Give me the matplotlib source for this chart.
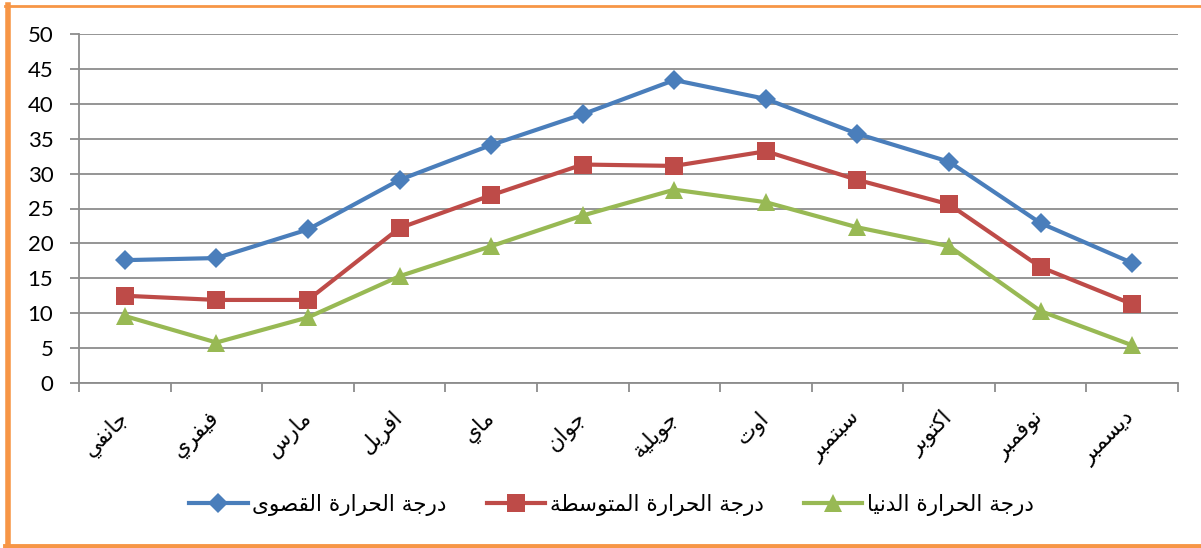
import matplotlib
matplotlib.use("Agg")
import matplotlib.pyplot as plt
from matplotlib.lines import Line2D
import numpy as np

# ---------------- data ----------------
months = ["جانفي", "فيفري", "مارس", "افريل", "ماي", "جوان",
          "جويلية", "اوت", "سبتمبر", "اكتوبر", "نوفمبر", "ديسمبر"]
series_names = ["درجة الحرارة القصوى", "درجة الحرارة المتوسطة", "درجة الحرارة الدنيا"]
t_max = [17.6, 17.9, 22.0, 29.1, 34.1, 38.5, 43.4, 40.7, 35.7, 31.7, 22.9, 17.2]
t_mean = [12.5, 11.9, 11.9, 22.2, 26.9, 31.3, 31.1, 33.2, 29.1, 25.6, 16.6, 11.3]
t_min = [9.6, 5.8, 9.4, 15.3, 19.6, 24.0, 27.7, 25.9, 22.3, 19.6, 10.3, 5.4]
y_ticks = [0, 5, 10, 15, 20, 25, 30, 35, 40, 45, 50]

# ------------- minimal Arabic shaping (presentation forms) -------------
FORMS = {
    'ا': ('\uFE8D', '\uFE8E', None, None),
    'ب': ('\uFE8F', '\uFE90', '\uFE91', '\uFE92'),
    'ة': ('\uFE93', '\uFE94', None, None),
    'ت': ('\uFE95', '\uFE96', '\uFE97', '\uFE98'),
    'ج': ('\uFE9D', '\uFE9E', '\uFE9F', '\uFEA0'),
    'ح': ('\uFEA1', '\uFEA2', '\uFEA3', '\uFEA4'),
    'د': ('\uFEA9', '\uFEAA', None, None),
    'ر': ('\uFEAD', '\uFEAE', None, None),
    'س': ('\uFEB1', '\uFEB2', '\uFEB3', '\uFEB4'),
    'ص': ('\uFEB9', '\uFEBA', '\uFEBB', '\uFEBC'),
    'ط': ('\uFEC1', '\uFEC2', '\uFEC3', '\uFEC4'),
    'ف': ('\uFED1', '\uFED2', '\uFED3', '\uFED4'),
    'ق': ('\uFED5', '\uFED6', '\uFED7', '\uFED8'),
    'ك': ('\uFED9', '\uFEDA', '\uFEDB', '\uFEDC'),
    'ل': ('\uFEDD', '\uFEDE', '\uFEDF', '\uFEE0'),
    'م': ('\uFEE1', '\uFEE2', '\uFEE3', '\uFEE4'),
    'ن': ('\uFEE5', '\uFEE6', '\uFEE7', '\uFEE8'),
    'و': ('\uFEED', '\uFEEE', None, None),
    'ى': ('\uFEEF', '\uFEF0', None, None),
    'ي': ('\uFEF1', '\uFEF2', '\uFEF3', '\uFEF4'),
}


def dual(c):
    return c in FORMS and FORMS[c][2] is not None


def shape(text):
    out = []
    n = len(text)
    for i, c in enumerate(text):
        if c not in FORMS:
            out.append(c)
            continue
        prev_c = text[i - 1] if i > 0 else ''
        next_c = text[i + 1] if i < n - 1 else ''
        join_prev = dual(prev_c)
        join_next = dual(c) and next_c in FORMS
        iso, fin, ini, med = FORMS[c]
        if join_prev and join_next:
            out.append(med)
        elif join_prev:
            out.append(fin)
        elif join_next:
            out.append(ini)
        else:
            out.append(iso)
    return ''.join(reversed(out))


# ---------------- figure ----------------
W, H = 1201, 548
fig = plt.figure(figsize=(W / 100, H / 100), dpi=100)
fig.patch.set_facecolor('white')
ax = fig.add_axes([79 / W, 1 - 383 / H, (1178 - 79) / W, (383 - 34) / H])

x = np.arange(1, len(months) + 1)
colors = ['#4A7EBB', '#BE4B48', '#98B954']
markers = ['D', 's', '^']
msizes = [10.5, 12.5, 13.5]
for vals, col, mk, ms, name in zip([t_max, t_mean, t_min], colors, markers, msizes, series_names):
    ax.plot(x, vals, color=col, lw=3.0, marker=mk, markersize=ms,
            markeredgewidth=0, label=shape(name), zorder=3)

ax.set_xlim(0.5, len(months) + 0.5)
ax.set_ylim(0, 50)
ax.set_yticks(y_ticks)
ax.set_yticklabels([str(v) for v in y_ticks], fontsize=16, family='Lato')
ax.yaxis.grid(True, color='#8C8C8C', lw=1.3, zorder=0)
ax.set_axisbelow(True)

for s in ['top', 'right']:
    ax.spines[s].set_visible(False)
for s in ['left', 'bottom']:
    ax.spines[s].set_color('#8C8C8C')
    ax.spines[s].set_linewidth(1.3)

ax.tick_params(axis='y', length=6.5, width=1.3, color='#8C8C8C', pad=12)
ax.set_xticks(np.arange(0.5, len(months) + 1, 1.0))
ax.set_xticklabels([])
ax.tick_params(axis='x', which='major', length=6.5, width=1.3, color='#8C8C8C')
ax.set_xticks(x, minor=True)
ax.set_xticklabels([shape(m) for m in months], minor=True, rotation=45,
                   ha='right', va='center', rotation_mode='anchor',
                   fontsize=15.5, family='DejaVu Sans')
ax.tick_params(axis='x', which='minor', length=0, pad=23)

leg = fig.legend(loc='center', bbox_to_anchor=(0.5 + 11 / W, 1 - 505 / H), ncol=3,
                 frameon=False, handlelength=2.7, columnspacing=1.9,
                 handletextpad=0.2, prop={'family': 'DejaVu Sans', 'size': 15.5})

# orange frame
orange = '#F79646'
fig.add_artist(Line2D([7.5 / W, 7.5 / W], [0, 1 - 5 / H], transform=fig.transFigure,
                      color=orange, lw=4.0))
fig.add_artist(Line2D([5 / W, 1], [1 - 6 / H, 1 - 6 / H], transform=fig.transFigure,
                      color=orange, lw=2.0))
fig.add_artist(Line2D([5 / W, 1], [2 / H, 2 / H], transform=fig.transFigure,
                      color=orange, lw=3.5))

fig.savefig('out.png', dpi=100)
